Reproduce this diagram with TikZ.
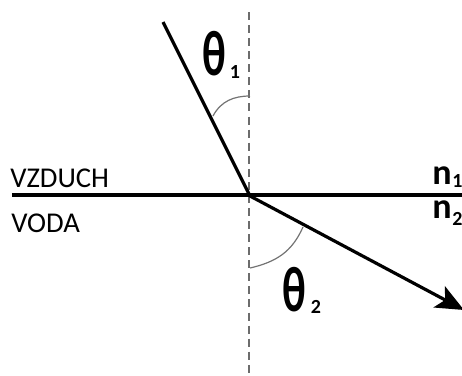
\documentclass[tikz,border=0pt]{standalone}
\usepackage{fontspec}
\setmainfont{Carlito}
\usetikzlibrary{arrows.meta}
\begin{document}
\begin{tikzpicture}[x=0.75pt,y=-0.75pt,
  ray/.style={line width=2.4pt,black},
  normal/.style={line width=1.9pt,gray!85!black,dash pattern=on 6pt off 3.8pt},
  anglearc/.style={line width=0.9pt,gray!90!black},
  medium/.style={inner sep=0pt,font=\fontsize{21.5}{24}\selectfont},
  idx/.style={inner sep=0pt,font=\fontsize{27}{28}\selectfont\bfseries},
  sub/.style={inner sep=0pt,font=\fontsize{15}{16}\selectfont\bfseries},
  ang/.style={inner sep=0pt,font=\fontsize{48}{50}\selectfont}]
\useasboundingbox (0,0) rectangle (462,376);
\coordinate (O) at (250,196);
\coordinate (A) at (163,22);
\coordinate (B) at (464,310);
\coordinate (T) at (249,12);
\coordinate (Bt) at (249,380);
\coordinate (L) at (12,195);
\coordinate (R) at (462,195);
% normal
\draw[normal] (T) -- (Bt);
% interface
\draw[line width=2.3pt] (L) -- (R);
% rays
\draw[ray] (A) -- (O);
\draw[ray,-{Stealth[length=21pt,width=18pt,inset=5pt]}] (O) -- (B);
% angle arcs
\coordinate (a1s) at (213,116);
\coordinate (a1e) at (250,96);
\draw[anglearc] (a1s) .. controls (221,101) and (234,96) .. (a1e);
\coordinate (a2s) at (250,268);
\coordinate (a2e) at (303,227);
\draw[anglearc] (a2s) .. controls (276,262) and (292,252) .. (a2e);
% labels
\node[medium,anchor=base west] (air) at (10,187) {VZDUCH};
\node[medium,anchor=base west] (water) at (11,232) {VODA};
\node[idx,anchor=base west] (n1) at (432,184) {n};
\node[sub,anchor=base west] (n1s) at (452,187) {1};
\node[idx,anchor=base west] (n2) at (432,218) {n};
\node[sub,anchor=base west] (n2s) at (452,225) {2};
\node[ang] (t1) at (214,54) {\scalebox{0.68}[1]{\bfseries θ}};
\node[sub] (t1s) at (235,72) {1};
\node[ang] (t2) at (294,290) {\scalebox{0.68}[1]{\bfseries θ}};
\node[sub] (t2s) at (316,307) {2};
\end{tikzpicture}
\end{document}
